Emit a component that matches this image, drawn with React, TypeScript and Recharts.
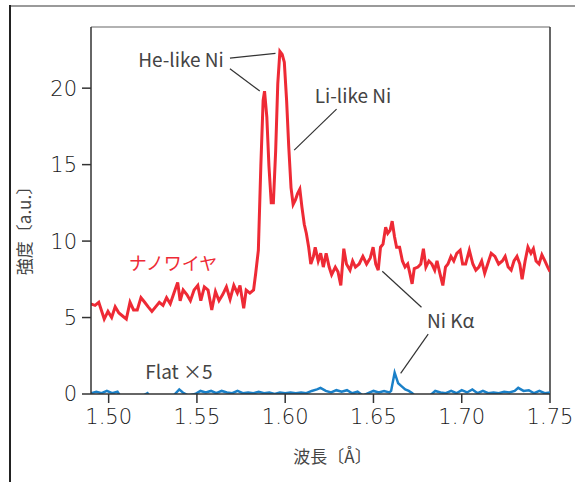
import React from 'react';
import { LineChart, Line, XAxis, YAxis, ReferenceLine, ReferenceDot } from 'recharts';

// ナノワイヤ spectrum (wavelength Å, intensity a.u.)
const nanoX = [1.4896,1.4923,1.4944,1.4975,1.4996,1.5017,1.5037,1.5058,1.5079,1.5100,1.5121,1.5141,1.5162,1.5183,1.5204,1.5224,1.5245,1.5266,1.5287,1.5308,1.5328,1.5349,1.5370,1.5391,1.5405,1.5422,1.5443,1.5463,1.5484,1.5505,1.5522,1.5542,1.5563,1.5584,1.5605,1.5625,1.5646,1.5667,1.5688,1.5709,1.5729,1.5744,1.5765,1.5779,1.5800,1.5821,1.5833,1.5848,1.5862,1.5875,1.5883,1.5896,1.5908,1.5921,1.5933,1.5946,1.5958,1.5970,1.5983,1.5995,1.6008,1.6020,1.6033,1.6045,1.6058,1.6070,1.6083,1.6095,1.6108,1.6120,1.6133,1.6145,1.6160,1.6170,1.6187,1.6201,1.6216,1.6232,1.6249,1.6263,1.6284,1.6299,1.6315,1.6332,1.6347,1.6367,1.6382,1.6398,1.6419,1.6440,1.6461,1.6482,1.6498,1.6513,1.6527,1.6540,1.6554,1.6569,1.6581,1.6594,1.6606,1.6619,1.6631,1.6648,1.6664,1.6679,1.6694,1.6706,1.6719,1.6731,1.6752,1.6768,1.6783,1.6797,1.6814,1.6831,1.6847,1.6860,1.6876,1.6893,1.6908,1.6922,1.6939,1.6955,1.6972,1.6991,1.7005,1.7022,1.7043,1.7063,1.7080,1.7097,1.7113,1.7130,1.7147,1.7167,1.7188,1.7209,1.7230,1.7246,1.7263,1.7280,1.7296,1.7313,1.7329,1.7342,1.7359,1.7375,1.7392,1.7406,1.7421,1.7438,1.7454,1.7471,1.7487,1.7500];
const nanoY = [5.9,5.8,6.0,4.9,5.4,5.0,5.7,5.3,5.1,4.9,6.0,5.5,5.5,6.3,6.0,5.7,5.4,5.7,6.0,5.8,6.3,5.9,6.6,7.3,6.1,6.8,6.5,6.1,6.8,7.1,6.1,7.0,6.8,5.5,6.7,6.1,6.5,7.0,6.2,7.1,6.6,7.1,5.6,6.8,6.6,6.8,7.9,9.4,14.9,19.2,19.8,18.1,14.9,12.5,12.5,15.9,20.3,22.4,22.2,21.7,19.2,16.2,13.5,12.4,12.7,13.1,13.4,12.2,11.1,10.5,9.6,8.5,9.0,9.6,8.7,9.2,8.3,9.2,8.3,7.8,8.3,8.0,7.1,9.5,8.5,8.1,8.7,8.3,8.5,9.0,8.5,8.9,9.6,8.5,8.1,9.6,9.8,10.9,10.5,10.7,11.3,10.3,9.6,9.6,8.7,8.3,8.5,7.9,7.2,8.2,8.3,8.5,9.5,8.3,8.7,8.5,8.1,8.7,7.9,7.1,8.3,8.5,9.0,8.7,9.2,9.4,8.5,8.5,9.4,8.5,8.1,8.3,8.7,7.9,8.5,9.2,9.0,8.5,8.7,9.0,8.3,8.1,8.7,9.0,8.5,7.5,8.7,9.6,9.2,9.5,8.7,8.5,9.1,8.7,8.3,8.0];

// Flat ×5 spectrum
const flatX = [1.490,1.493,1.496,1.499,1.502,1.505,1.507,1.512,1.518,1.522,1.524,1.530,1.536,1.540,1.542,1.545,1.549,1.552,1.555,1.558,1.561,1.564,1.567,1.570,1.573,1.576,1.579,1.582,1.585,1.588,1.591,1.594,1.597,1.600,1.603,1.606,1.609,1.612,1.615,1.618,1.620,1.623,1.626,1.629,1.632,1.635,1.638,1.641,1.644,1.647,1.650,1.653,1.656,1.659,1.660,1.662,1.664,1.666,1.668,1.670,1.672,1.675,1.680,1.685,1.688,1.691,1.694,1.697,1.700,1.703,1.706,1.709,1.712,1.715,1.718,1.721,1.724,1.727,1.730,1.732,1.735,1.738,1.741,1.744,1.747,1.750];
const flatY = [0.05,0.15,0.05,0.2,0.05,0.15,-0.2,-0.3,-0.2,0.05,-0.3,-0.3,-0.2,0.3,0.1,-0.1,0.0,0.2,0.1,0.2,0.05,0.2,0.1,0.05,0.2,0.05,0.1,0.05,0.15,0.05,0.1,0.0,0.1,0.05,0.1,0.05,0.1,0.05,0.2,0.3,0.4,0.2,0.1,0.25,0.15,0.25,0.05,0.15,-0.1,0.05,0.2,0.1,0.2,0.1,0.2,1.4,0.7,0.5,0.3,0.2,0.05,-0.3,-0.3,0.2,0.1,0.05,0.2,0.05,0.25,0.1,0.3,0.05,0.2,0.05,0.1,0.05,0.15,0.1,0.2,0.4,0.2,0.25,0.05,0.2,0.05,0.1];

const xTicks = [1.5, 1.55, 1.6, 1.65, 1.7, 1.75];
const yTicks = [0, 5, 10, 15, 20];

const nanoData = nanoX.map((x, i) => ({ x, y: nanoY[i] }));
const flatData = flatX.map((x, i) => ({ x, y: flatY[i] }));

// annotation leader lines (data coordinates)
const leaders = [
  [[1.5687, 21.97], [1.5945, 22.28]],
  [[1.5687, 21.27], [1.5856, 19.81]],
  [[1.6291, 18.63], [1.6051, 15.95]],
  [[1.6550, 8.03], [1.6772, 5.67]],
  [[1.6810, 3.91], [1.6654, 1.35]],
];
const notes = [
  { x: 1.5410, y: 21.84, text: 'He-like Ni', color: '#444' },
  { x: 1.6384, y: 19.48, text: 'Li-like Ni', color: '#444' },
  { x: 1.6938, y: 4.76, text: 'Ni Kα', color: '#444' },
  { x: 1.5364, y: 8.55, text: 'ナノワイヤ', color: '#ee2a35' },
  { x: 1.5398, y: 1.42, text: 'Flat ×5', color: '#444' },
];

const FONT = '"Noto Sans CJK JP", "Noto Sans", sans-serif';
const LATIN = '"DejaVu Sans", "Noto Sans CJK JP", sans-serif';

const YLabel = (props: any) => {
  const vb = props.viewBox || {};
  const cx = vb.x + vb.width - 68;
  const cy = vb.y + vb.height / 2 + 16;
  return (
    <text x={cx} y={cy} transform={`rotate(-90 ${cx} ${cy})`} textAnchor="middle" dominantBaseline="central"
      fill="#444" fontSize={17} fontFamily={FONT}>強度〔a.u.〕</text>
  );
};
const XLabel = (props: any) => {
  const vb = props.viewBox || {};
  return (
    <text x={vb.x + vb.width / 2 + 12} y={vb.y + 61} textAnchor="middle" dominantBaseline="central"
      fill="#444" fontSize={17} fontFamily={FONT}>波長〔Å〕</text>
  );
};

export default function App() {
  return (
    <div style={{ position: 'absolute', left: 0, top: 0, width: 575, height: 482, background: '#fff', overflow: 'hidden' }}>
      <div style={{ position: 'absolute', left: 9, top: 5, width: 566, height: 2, background: '#9a9a9a' }} />
      <div style={{ position: 'absolute', left: 9, top: 5, width: 1.5, height: 477, background: '#222' }} />
      <LineChart width={575} height={482} data={nanoData}
        margin={{ top: 27, right: 25, bottom: 38, left: 31 }}
        style={{ position: 'absolute', left: 0, top: 0 }}>
        <XAxis type="number" dataKey="x" domain={[1.49, 1.75]} ticks={xTicks} allowDataOverflow
          tickFormatter={(v: number) => v.toFixed(2)} height={50} tickSize={9} tickMargin={6}
          stroke="#333" strokeWidth={1.5}
          tick={{ fill: '#1a1a1a', fontSize: 21, fontFamily: LATIN, fontWeight: 200 }}
          label={<XLabel />} />
        <YAxis type="number" domain={[0, 24]} ticks={yTicks} allowDataOverflow width={60}
          tickSize={9} tickMargin={5} stroke="#333" strokeWidth={1.5}
          tick={{ fill: '#1a1a1a', fontSize: 21, fontFamily: LATIN, fontWeight: 200 }}
          label={<YLabel />} />
        <ReferenceLine y={24} stroke="#999" strokeWidth={1.5} />
        <ReferenceLine x={1.75} stroke="#333" strokeWidth={1.5} />
        <Line data={flatData} dataKey="y" type="linear" stroke="#1a80c8" strokeWidth={2.5} dot={false} isAnimationActive={false} />
        <Line data={nanoData} dataKey="y" type="linear" stroke="#ee2a35" strokeWidth={3} dot={false} isAnimationActive={false} />
        {leaders.map((s, i) => (
          <ReferenceLine key={'l' + i} segment={[{ x: s[0][0], y: s[0][1] }, { x: s[1][0], y: s[1][1] }]}
            stroke="#333" strokeWidth={1.2} />
        ))}
        {notes.map((n, i) => (
          <ReferenceDot key={'n' + i} x={n.x} y={n.y} r={0} fill="none" stroke="none"
            label={{ value: n.text, position: 'center', fill: n.color, fontSize: i === 3 ? 18 : 19,
              fontFamily: FONT }} />
        ))}
      </LineChart>
    </div>
  );
}
